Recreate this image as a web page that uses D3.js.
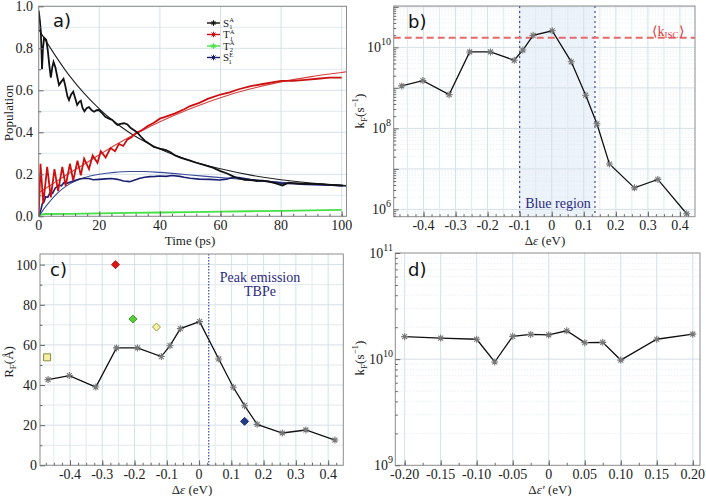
<!DOCTYPE html>
<html><head><meta charset="utf-8">
<script src="https://cdn.jsdelivr.net/npm/d3@7"></script>
<style>
body{margin:0;background:#fff}
svg{display:block}
</style></head><body>
<svg id="c" width="706" height="496"></svg>
<script>
// ---------------- DATA ----------------
// panel a: simulated populations [time ps, population]
const s1aSim = [[0,0.98],[0.4,0.93],[0.7,0.88],[0.9,0.80],[1.1,0.70],[1.4,0.80],[1.8,0.85],[2.5,0.84],[3.0,0.79],[3.5,0.72],[4.0,0.66],[4.5,0.71],[4.9,0.735],[5.5,0.71],[6.2,0.66],[6.7,0.625],[7.4,0.64],[8.2,0.655],[8.8,0.62],[9.5,0.57],[10,0.553],[10.7,0.58],[11.4,0.593],[12.1,0.56],[12.7,0.53],[13.4,0.545],[13.9,0.55],[14.5,0.515],[15.1,0.5],[15.8,0.515],[16.6,0.52],[17.5,0.505],[18.3,0.498],[19.1,0.505],[19.9,0.506],[21,0.49],[22,0.474],[23.2,0.465],[24.3,0.459],[25.2,0.445],[26,0.435],[27,0.44],[28.2,0.443],[29.3,0.437],[30.4,0.42],[31.5,0.41],[32.5,0.40],[33.7,0.38],[35,0.36],[36.5,0.345],[38,0.33],[40,0.322],[42,0.315],[43.5,0.305],[45,0.29],[47,0.278],[50,0.265],[52,0.255],[54.5,0.245],[57.5,0.232],[60,0.215],[62,0.205],[64.2,0.19],[66,0.18],[68,0.174],[70,0.172],[72,0.168],[74,0.17],[76,0.165],[78,0.158],[80.5,0.147],[82.4,0.16],[84,0.158],[87,0.155],[90,0.154],[93,0.153],[96,0.15],[99.4,0.147],[100.5,0.146]];
const t1aSim = [[0,0],[0.6,0.25],[1.5,0.06],[2.8,0.235],[4.0,0.09],[5.2,0.225],[6.4,0.12],[7.8,0.235],[8.9,0.145],[10.3,0.25],[11.4,0.17],[12.8,0.265],[13.9,0.195],[15.0,0.275],[16.6,0.225],[17.8,0.29],[19.4,0.255],[20.5,0.31],[22.1,0.28],[23.7,0.325],[25.2,0.31],[26.5,0.345],[27.9,0.335],[29.2,0.365],[30.5,0.375],[32,0.395],[34,0.41],[36,0.43],[38,0.445],[40,0.465],[42,0.475],[45,0.49],[48,0.51],[50,0.525],[53,0.54],[56,0.56],[60,0.58],[63,0.59],[66,0.605],[70,0.62],[74,0.63],[78,0.64],[80,0.645],[84,0.645],[88,0.65],[92,0.655],[96,0.66],[100,0.66]];
const t2aSim = [[0,0],[0.8,0.008],[2,0.011],[10,0.012],[20,0.014],[30,0.016],[40,0.018],[50,0.02],[60,0.022],[70,0.024],[80,0.026],[90,0.028],[100,0.031]];
const s1eSim = [[0,0],[0.7,0.03],[1.2,0.06],[1.8,0.07],[2.3,0.093],[3.0,0.09],[3.9,0.117],[4.6,0.11],[5.5,0.135],[6.7,0.148],[7.5,0.145],[8.3,0.16],[9.5,0.158],[10.5,0.163],[12.2,0.172],[13.5,0.178],[15,0.181],[16.5,0.18],[18,0.174],[20,0.176],[22,0.178],[24,0.18],[26,0.176],[28,0.168],[30,0.165],[31.5,0.172],[33.4,0.181],[35,0.186],[36.7,0.189],[38.5,0.19],[40,0.192],[42,0.19],[44,0.194],[46.6,0.19],[48,0.186],[50,0.181],[53,0.177],[56.5,0.176],[59.8,0.173],[62,0.177],[64.2,0.186],[66,0.185],[68,0.18],[70,0.175],[73,0.17],[76,0.165],[80,0.158],[84,0.155],[88,0.152],[92,0.15],[96,0.149],[100,0.146]];
// panel a: fitted curves
const s1aFit = [[0,0.89],[5,0.776],[10,0.672],[15,0.585],[20,0.512],[25,0.45],[30,0.398],[35,0.356],[40,0.32],[50,0.265],[60,0.226],[70,0.196],[80,0.174],[90,0.158],[100,0.148],[101.5,0.146]];
const t1aFit = [[0,0.112],[5,0.158],[10,0.205],[15,0.248],[20,0.293],[25,0.337],[30,0.378],[35,0.415],[40,0.45],[50,0.512],[60,0.565],[70,0.607],[80,0.64],[90,0.665],[100,0.685],[101.5,0.688]];
const s1eFit = [[0,0],[2.5,0.05],[5,0.093],[7.5,0.127],[10,0.152],[12.5,0.17],[15,0.184],[20,0.2],[25,0.209],[30,0.213],[35,0.213],[40,0.209],[50,0.197],[60,0.184],[70,0.173],[80,0.162],[90,0.152],[100,0.144],[101.5,0.143]];
const legendLabels = [["S","A","1"],["T","A","1"],["T","A","2"],["S","E","1"]];

// panels b and c: energy gap (eV)
const deltaE = [-0.468,-0.402,-0.32,-0.256,-0.191,-0.117,-0.09,-0.058,0.0015,0.061,0.106,0.141,0.18,0.258,0.331,0.421];
const kF = [1.12e9,1.51e9,6.8e8,7.7e9,7.7e9,4.8e9,8.6e9,1.98e10,2.57e10,4.4e9,6.6e8,1.3e8,1.32e7,3.4e6,5.5e6,7.8e5];
const kISC = 1.73e10;
const blueRegion = [-0.1, 0.135];
const RF = [42.7,44.7,39.0,58.5,58.5,54.2,59.6,68.1,71.6,53.0,38.9,29.7,20.4,16.1,17.6,12.6];
const peakEmission = 0.03;
const extraX = [-0.471,-0.259,-0.205,-0.132,0.141];
const extraR = [53.8,100,72.9,68.9,21.9];
const extraShape = ["square","diamond","diamond","diamond","diamond"];
const extraFill = ["#f4f0a8","#dd1515","#55d03a","#f4f0a8","#223a8c"];
const extraStroke = ["#8a8a3a","#b01010","#3a9a2a","#9a9a40","#1a2a6a"];

// panel d
const deltaE2 = [-0.2,-0.15,-0.1,-0.075,-0.05,-0.025,0,0.025,0.05,0.075,0.1,0.15,0.2];
const kF2 = [1.63e10,1.58e10,1.54e10,9.4e9,1.64e10,1.71e10,1.69e10,1.85e10,1.43e10,1.44e10,9.8e9,1.54e10,1.72e10];

// tick labels
const aXTicks = [0,20,40,60,80,100];
const aYTicks = [0,0.2,0.4,0.6,0.8,1.0];
const bcXTicks = [-0.4,-0.3,-0.2,-0.1,0,0.1,0.2,0.3,0.4];
const bYExp = [6,8,10];
const cYTicks = [0,20,40,60,80,100];
const dXTicks = [-0.2,-0.15,-0.1,-0.05,0,0.05,0.1,0.15,0.2];
const dXLabels = ["-0.20","-0.15","-0.10","-0.05","0","0.05","0.10","0.15","0.20"];
const dYExp = [9,10,11];

// ---------------- DRAW ----------------
const SERIF = "Liberation Serif";
const SANS = "DejaVu Sans";
const svg = d3.select("#c");
const defs = svg.append("defs");
const GRID = "#d4e0e6", GRIDM = "#e2eaee", FRAME = "#8c8c8c";
const FS = 14, TFS = 13;

function txt(x, y, s, size, anchor, color){
  return svg.append("text").attr("x", x).attr("y", y).attr("text-anchor", anchor || "start")
    .attr("font-size", size || FS).attr("font-family", SERIF).attr("fill", color || "#222").text(s);
}
function clip(id, x0, y0, x1, y1){
  defs.append("clipPath").attr("id", id).append("rect")
    .attr("x", x0).attr("y", y0).attr("width", x1 - x0).attr("height", y1 - y0);
}
function hline(g, y, x0, x1, col, dash, w){
  g.append("line").attr("x1", x0).attr("x2", x1).attr("y1", y).attr("y2", y)
    .attr("stroke", col).attr("stroke-width", w || 1).attr("stroke-dasharray", dash || null);
}
function vline(g, x, y0, y1, col, dash, w){
  g.append("line").attr("x1", x).attr("x2", x).attr("y1", y0).attr("y2", y1)
    .attr("stroke", col).attr("stroke-width", w || 1).attr("stroke-dasharray", dash || null);
}
function frame(x0, y0, x1, y1){
  svg.append("rect").attr("x", x0).attr("y", y0).attr("width", x1 - x0).attr("height", y1 - y0)
    .attr("fill", "none").attr("stroke", FRAME).attr("stroke-width", 1);
}
function axisTicks(scale, orient, pos, values, size){
  const ax = (orient === "bottom" ? d3.axisBottom(scale) : d3.axisLeft(scale))
    .tickValues(values).tickFormat("").tickSizeInner(-size).tickSizeOuter(0);
  const g = svg.append("g").attr("transform", orient === "bottom" ? `translate(0,${pos})` : `translate(${pos},0)`).call(ax);
  g.select(".domain").remove();
  g.selectAll("line").attr("stroke", "#666");
}
function starPath(r){
  const a = r * 0.7071;
  return `M${-r},0L${r},0M0,${-r}L0,${r}M${-a},${-a}L${a},${a}M${-a},${a}L${a},${-a}`;
}
function powLabel(x, y, exp){
  const t = txt(x, y + 5, "", FS, "end");
  t.append("tspan").text("10");
  t.append("tspan").attr("font-size", 10).attr("dy", -7).text(exp);
}
function kfTitle(x, y){
  const t = svg.append("text").attr("transform", `translate(${x},${y}) rotate(-90)`).attr("text-anchor", "middle")
    .attr("font-size", TFS).attr("font-family", SERIF).attr("fill", "#222");
  t.append("tspan").text("k");
  t.append("tspan").attr("font-size", 9).attr("dy", 3).text("F");
  t.append("tspan").attr("dy", -3).text("(s");
  t.append("tspan").attr("font-size", 9).attr("dy", -6).text("\u22121");
  t.append("tspan").attr("dy", 6).text(")");
}
function deTitle(x, y, prime){
  const t = txt(x, y, "", TFS, "middle");
  t.append("tspan").text("\u0394");
  t.append("tspan").attr("font-style", "italic").text("\u03b5" + (prime ? "\u2032" : ""));
  t.append("tspan").text(" (eV)");
}
function panelLabel(x, y, s){
  svg.append("text").attr("x", x).attr("y", y).attr("font-size", 18).attr("font-family", SANS).attr("fill", "#111").text(s);
}

// ===== Panel a =====
{
  const X0 = 38.7, X1 = 346.5, Y0 = 6.3, Y1 = 216.3;
  const x = d3.scaleLinear().domain([0, 101.6]).range([X0, X1]);
  const y = d3.scaleLinear().domain([0, 1]).range([Y1, Y0]);
  const g = svg.append("g");
  d3.range(0.1, 1.0, 0.2).forEach(v => hline(g, y(v), X0, X1, GRIDM));
  aYTicks.forEach(v => hline(g, y(v), X0, X1, GRID));
  aXTicks.forEach(v => vline(g, x(v), Y0, Y1, GRID));
  clip("ca", X0, Y0, X1, Y1);
  const p = svg.append("g").attr("clip-path", "url(#ca)");
  const line = d3.line().x(d => x(d[0])).y(d => y(d[1]));
  const smooth = d3.line().x(d => x(d[0])).y(d => y(d[1])).curve(d3.curveMonotoneX);
  p.append("path").attr("d", line(t2aSim)).attr("fill", "none").attr("stroke", "#44e044").attr("stroke-width", 1.8);
  p.append("path").attr("d", smooth(s1eFit)).attr("fill", "none").attr("stroke", "#3b4b98").attr("stroke-width", 1.1);
  p.append("path").attr("d", smooth(s1aFit)).attr("fill", "none").attr("stroke", "#222").attr("stroke-width", 1.1);
  p.append("path").attr("d", smooth(t1aFit)).attr("fill", "none").attr("stroke", "#d84040").attr("stroke-width", 1.1);
  p.append("path").attr("d", line(s1eSim)).attr("fill", "none").attr("stroke", "#1b1f70").attr("stroke-width", 1.6);
  p.append("path").attr("d", line(t1aSim)).attr("fill", "none").attr("stroke", "#cc1010").attr("stroke-width", 1.8);
  p.append("path").attr("d", line(s1aSim)).attr("fill", "none").attr("stroke", "#111").attr("stroke-width", 1.8);
  frame(X0, Y0, X1, Y1);
  axisTicks(x, "bottom", Y1, d3.range(0, 101, 4), 2.5);
  axisTicks(x, "bottom", Y1, aXTicks, 5);
  axisTicks(y, "left", X0, d3.range(0.1, 1, 0.2), 2.5);
  axisTicks(y, "left", X0, aYTicks, 5);
  aXTicks.forEach(v => txt(x(v), 230, v, FS, "middle"));
  aYTicks.forEach(v => txt(33, y(v) + 5, v.toFixed(1), FS, "end"));
  txt(190, 245, "Time (ps)", TFS, "middle");
  svg.append("text").attr("transform", "translate(12.5,113) rotate(-90)").attr("text-anchor", "middle")
    .attr("font-size", TFS).attr("font-family", SERIF).attr("fill", "#222").text("Population");
  panelLabel(53, 27, "a)");
  // legend
  const legCols = ["#111", "#cc1010", "#44e044", "#1b1f70"];
  const legY = [23, 34.5, 46, 57.5];
  legendLabels.forEach((lab, i) => {
    const yy = legY[i];
    svg.append("line").attr("x1", 207).attr("x2", 220).attr("y1", yy).attr("y2", yy).attr("stroke", legCols[i]).attr("stroke-width", 1.4);
    svg.append("path").attr("d", starPath(2.8)).attr("transform", `translate(213.5,${yy})`).attr("stroke", legCols[i]).attr("stroke-width", 1).attr("fill", "none");
    const t = txt(223, yy + 3.5, "", 11, "start");
    t.append("tspan").text(lab[0]);
    t.append("tspan").attr("font-size", 6.5).attr("dy", -4.5).text(lab[1]);
    t.append("tspan").attr("font-size", 6.5).attr("dx", -4.7).attr("dy", 7).text(lab[2]);
  });
}

// ===== Panel b =====
{
  const X0 = 393.7, X1 = 695, Y0 = 6, Y1 = 216.7;
  const x = d3.scaleLinear().domain([-0.493, 0.447]).range([X0, X1]);
  const y = d3.scaleLog().domain([6.6e5, 1.05e11]).range([Y1, Y0]);
  clip("cb", X0, Y0, X1, Y1);
  const gc = svg.append("g").attr("clip-path", "url(#cb)");
  gc.append("rect").attr("x", x(blueRegion[0])).attr("y", Y0).attr("width", x(blueRegion[1]) - x(blueRegion[0])).attr("height", Y1 - Y0).attr("fill", "#edf3fb");
  const minorY = []; for (let e = 5; e <= 11; e++) for (let m = 2; m <= 9; m++) { const v = m * Math.pow(10, e); if (v > 6.6e5 && v < 1.05e11) minorY.push(v); }
  minorY.forEach(v => hline(gc, y(v), X0, X1, GRIDM, "1,2"));
  for (let e = 6; e <= 11; e++) hline(gc, y(Math.pow(10, e)), X0, X1, GRID);
  d3.range(-0.45, 0.46, 0.1).forEach(v => vline(gc, x(v), Y0, Y1, GRIDM));
  bcXTicks.forEach(v => vline(gc, x(v), Y0, Y1, GRID));
  blueRegion.forEach(v => vline(gc, x(v), Y0, Y1, "#3a3a8c", "2,3", 1.1));
  hline(gc, y(kISC), X0, X1, "#e46a6a", "7,4", 2);
  const line = d3.line().x((d, i) => x(deltaE[i])).y(d => y(d));
  gc.append("path").attr("d", line(kF)).attr("fill", "none").attr("stroke", "#111").attr("stroke-width", 1.3);
  gc.selectAll(".m").data(kF).enter().append("path").attr("d", starPath(3.5))
    .attr("transform", (d, i) => `translate(${x(deltaE[i])},${y(d)})`).attr("stroke", "#777").attr("stroke-width", 1.1).attr("fill", "none");
  frame(X0, Y0, X1, Y1);
  axisTicks(x, "bottom", Y1, d3.range(-0.475, 0.44, 0.025), 2.5);
  axisTicks(x, "bottom", Y1, bcXTicks, 5);
  axisTicks(y, "left", X0, minorY, 2.5);
  axisTicks(y, "left", X0, [1e6, 1e7, 1e8, 1e9, 1e10, 1e11], 5);
  bcXTicks.forEach(v => txt(x(v), 230, v === 0 ? "0" : (v < 0 ? "-" : "") + Math.abs(v).toFixed(1), FS, "middle"));
  bYExp.forEach(e => powLabel(391, y(Math.pow(10, e)), e));
  deTitle(545, 245, false);
  kfTitle(364, 111);
  txt(558, 208, "Blue region", FS, "middle", "#2a2a80");
  const kt = txt(668, 36, "", FS, "middle", "#d83a3a");
  kt.append("tspan").text("\u27e8k");
  kt.append("tspan").attr("font-size", 9).attr("dy", 2).text("ISC");
  kt.append("tspan").attr("dy", -2).text("\u27e9");
  panelLabel(408, 28, "b)");
}

// ===== Panel c =====
{
  const X0 = 40, X1 = 343.3, Y0 = 254, Y1 = 465.3;
  const x = d3.scaleLinear().domain([-0.493, 0.447]).range([X0, X1]);
  const y = d3.scaleLinear().domain([0, 105.3]).range([Y1, Y0]);
  clip("cc", X0, Y0, X1, Y1);
  const gc = svg.append("g").attr("clip-path", "url(#cc)");
  d3.range(10, 101, 20).forEach(v => hline(gc, y(v), X0, X1, GRIDM));
  cYTicks.forEach(v => hline(gc, y(v), X0, X1, GRID));
  d3.range(-0.45, 0.46, 0.1).forEach(v => vline(gc, x(v), Y0, Y1, GRIDM));
  bcXTicks.forEach(v => vline(gc, x(v), Y0, Y1, GRID));
  vline(gc, x(peakEmission), Y0, Y1, "#2a3aa0", "1.5,1.5", 1.1);
  const line = d3.line().x((d, i) => x(deltaE[i])).y(d => y(d));
  gc.append("path").attr("d", line(RF)).attr("fill", "none").attr("stroke", "#111").attr("stroke-width", 1.3);
  gc.selectAll(".m").data(RF).enter().append("path").attr("d", starPath(3.5))
    .attr("transform", (d, i) => `translate(${x(deltaE[i])},${y(d)})`).attr("stroke", "#777").attr("stroke-width", 1.1).attr("fill", "none");
  extraR.forEach((v, i) => {
    const s = extraShape[i] === "square" ? "M-3.5,-3.5L3.5,-3.5L3.5,3.5L-3.5,3.5Z" : "M0,-4L4,0L0,4L-4,0Z";
    gc.append("path").attr("d", s).attr("transform", `translate(${x(extraX[i])},${y(v)})`)
      .attr("fill", extraFill[i]).attr("stroke", extraStroke[i]).attr("stroke-width", 1);
  });
  frame(X0, Y0, X1, Y1);
  axisTicks(x, "bottom", Y1, d3.range(-0.475, 0.44, 0.025), 2.5);
  axisTicks(x, "bottom", Y1, bcXTicks, 5);
  axisTicks(y, "left", X0, d3.range(10, 101, 20), 2.5);
  axisTicks(y, "left", X0, cYTicks, 5);
  bcXTicks.forEach(v => txt(x(v), 479, v === 0 ? "0" : (v < 0 ? "-" : "") + Math.abs(v).toFixed(1), FS, "middle"));
  cYTicks.forEach(v => txt(37, y(v) + 5, v, FS, "end"));
  deTitle(192, 494, false);
  const rt = svg.append("text").attr("transform", "translate(13,362) rotate(-90)").attr("text-anchor", "middle")
    .attr("font-size", TFS).attr("font-family", SERIF).attr("fill", "#222");
  rt.append("tspan").text("R");
  rt.append("tspan").attr("font-size", 9).attr("dy", 3).text("F");
  rt.append("tspan").attr("dy", -3).text("(\u00c5)");
  txt(260, 282, "Peak emission", FS, "middle", "#2a2a80");
  txt(260, 296, "TBPe", FS, "middle", "#2a2a80");
  panelLabel(50, 276, "c)");
}

// ===== Panel d =====
{
  const X0 = 395.3, X1 = 700, Y0 = 253, Y1 = 465.3;
  const x = d3.scaleLinear().domain([-0.213, 0.21]).range([X0, X1]);
  const y = d3.scaleLog().domain([1e9, 1e11]).range([Y1, Y0]);
  clip("cd", X0, Y0, X1, Y1);
  const gc = svg.append("g").attr("clip-path", "url(#cd)");
  const minorY = []; for (let e = 9; e <= 10; e++) for (let m = 2; m <= 9; m++) minorY.push(m * Math.pow(10, e));
  minorY.forEach(v => hline(gc, y(v), X0, X1, GRIDM, "1,2"));
  hline(gc, y(1e10), X0, X1, GRID);
  dXTicks.forEach(v => vline(gc, x(v), Y0, Y1, GRID));
  const line = d3.line().x((d, i) => x(deltaE2[i])).y(d => y(d));
  gc.append("path").attr("d", line(kF2)).attr("fill", "none").attr("stroke", "#111").attr("stroke-width", 1.3);
  gc.selectAll(".m").data(kF2).enter().append("path").attr("d", starPath(3.5))
    .attr("transform", (d, i) => `translate(${x(deltaE2[i])},${y(d)})`).attr("stroke", "#777").attr("stroke-width", 1.1).attr("fill", "none");
  frame(X0, Y0, X1, Y1);
  axisTicks(x, "bottom", Y1, d3.range(-0.2, 0.21, 0.025), 2.5);
  axisTicks(x, "bottom", Y1, dXTicks, 5);
  axisTicks(y, "left", X0, minorY, 2.5);
  axisTicks(y, "left", X0, [1e9, 1e10, 1e11], 5);
  dXTicks.forEach((v, i) => txt(x(v), 479, dXLabels[i], FS, "middle"));
  dYExp.forEach(e => powLabel(393, y(Math.pow(10, e)), e));
  deTitle(550, 494, true);
  kfTitle(364, 358);
  panelLabel(408, 276, "d)");
}
</script>
</body></html>
